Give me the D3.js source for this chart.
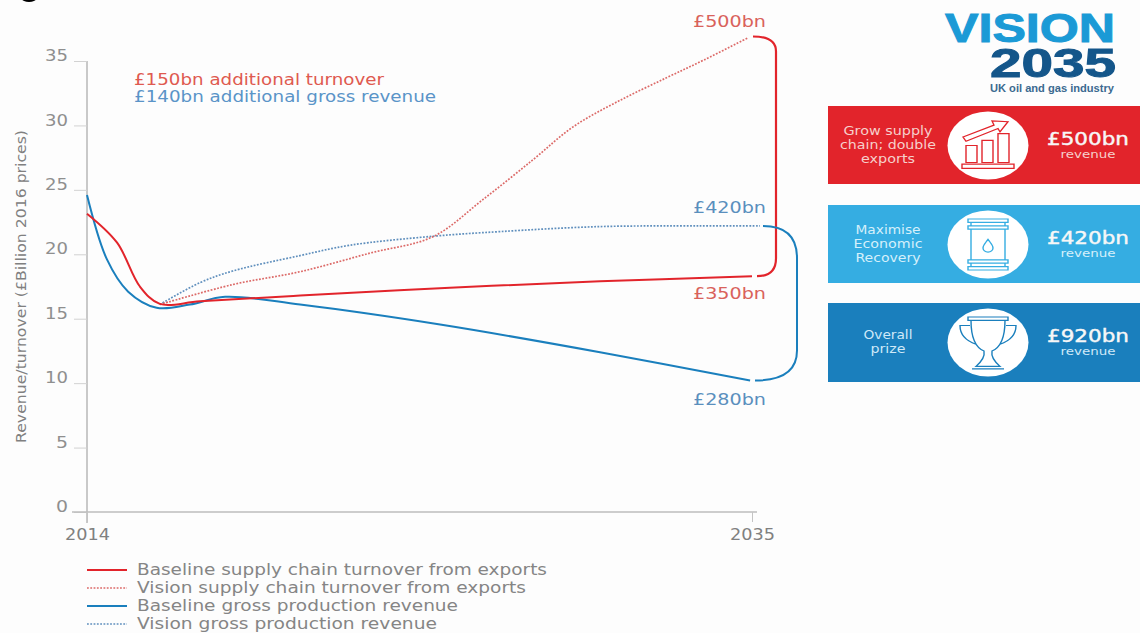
<!DOCTYPE html>
<html>
<head>
<meta charset="utf-8">
<script src="https://cdn.jsdelivr.net/npm/d3@7"></script>
<style>
html,body{margin:0;padding:0;background:#fdfdfd;overflow:hidden}
svg{display:block}
text{font-family:"DejaVu Sans",sans-serif}
</style>
</head>
<body>
<svg id="chart" width="1140" height="633"></svg>
<script>
// Revenue in £bn per year (2016 prices), [year, value]
const baselineSupply = [[2014,23.15],[2014.95,20.9],[2015.67,17.5],[2016.3,16.15],[2017.57,16.35],[2020.73,16.8],[2025.46,17.4],[2030.2,17.9],[2035,18.3]];
const visionSupply = [[2016.3,16.1],[2018.6,17.65],[2020.73,18.65],[2022.95,20.1],[2024.93,21.37],[2026.5,24.24],[2028.08,27.33],[2029.35,29.89],[2030.74,31.83],[2032.3,33.7],[2033.5,35.1],[2034.87,36.8]];
const baselineGross = [[2014,24.6],[2014.63,19.6],[2015.3,17.1],[2016.2,15.85],[2017.25,16.1],[2018.36,16.7],[2020.73,16.1],[2025.15,14.55],[2030.2,12.4],[2034.94,10.2]];
const visionGross = [[2016.3,16.1],[2017.57,17.8],[2018.6,18.7],[2020.73,19.9],[2022.3,20.7],[2024.93,21.4],[2027.04,21.76],[2030.2,22.15],[2033.36,22.2],[2035.25,22.2]];

const yTicks = [0,5,10,15,20,25,30,35];
const xTicks = [2014,2035];
const yLabel = "Revenue/turnover (£Billion 2016 prices)";
const legendNames = ["Baseline supply chain turnover from exports","Vision supply chain turnover from exports","Baseline gross production revenue","Vision gross production revenue"];
const legendWidths = [410,389,321,300];
const bracketLabels = ["£500bn","£420bn","£350bn","£280bn"];
const summaryLines = ["£150bn additional turnover","£140bn additional gross revenue"];
const summaryWidths = [250,302];
const panelTitles = [["Grow supply","chain; double","exports"],["Maximise","Economic","Recovery"],["Overall","prize"]];
const panelTitleWidths = [[89,96,54],[65,69,65],[49,35]];
const panelValues = ["£500bn","£420bn","£920bn"];
const panelUnit = "revenue";

const RED = "#e2242b", LIGHT = "#35ade2", BLUE = "#1a7fbd", GREY = "#8f8f8f";
const DOTTED = "1.8 1.5";

const svg = d3.select("#chart");
const x = d3.scaleLinear().domain([2014,2035]).range([87,752]);
const y = d3.scaleLinear().domain([0,35]).range([512,61]);

// Stretches a text's glyphs to an exact width for the wide lettering
const fit = (sel, w) => sel.attr("textLength", w).attr("lengthAdjust", "spacingAndGlyphs");

// Dark speck left at the very top edge of the page
svg.append("ellipse").attr("cx",29).attr("cy",-1).attr("rx",7).attr("ry",3).attr("fill","#000");

// Axes
const yAxis = d3.axisLeft(y).tickValues(yTicks).tickSize(13).tickPadding(6);
const gy = svg.append("g").attr("transform","translate(87,0)").call(yAxis);
gy.select(".domain").attr("d",`M0,${y(35)}V523`).attr("stroke","#c9c9c9").attr("stroke-width",2);
gy.selectAll(".tick line").attr("stroke","#d2d2d2");
gy.selectAll(".tick text").attr("x",-19).attr("dy","-0.02em").attr("fill",GREY).style("font-size","15px").attr("textLength",d=>d<10?12:23).attr("lengthAdjust","spacingAndGlyphs");

const xAxis = d3.axisBottom(x).tickValues(xTicks).tickSize(10).tickPadding(7).tickFormat(d3.format("d"));
const gx = svg.append("g").attr("transform",`translate(0,${y(0)})`).call(xAxis);
gx.select(".domain").attr("d","M72,0H757").attr("stroke","#bdbdbd").attr("stroke-width",1.5);
gx.selectAll(".tick line").attr("stroke","#c4c4c4");
gx.selectAll(".tick text").attr("fill","#808080").style("font-size","15px").call(fit,45);

svg.append("text").attr("transform","translate(26,286.5) rotate(-90)").attr("text-anchor","middle")
  .attr("fill","#808080").style("font-size","14px").call(fit,313).text(yLabel);

// Series lines
const line = d3.line().x(d=>x(d[0])).y(d=>y(d[1])).curve(d3.curveCatmullRom.alpha(0.5));
const series = [
  {d:visionGross,c:"#5f8fbd",dash:DOTTED,w:1.7},
  {d:visionSupply,c:"#dc6a68",dash:DOTTED,w:1.7},
  {d:baselineGross,c:BLUE,dash:null,w:2},
  {d:baselineSupply,c:RED,dash:null,w:2}
];
svg.selectAll("path.series").data(series).join("path").attr("class","series")
  .attr("d",s=>line(s.d)).attr("fill","none").attr("stroke",s=>s.c).attr("stroke-width",s=>s.w)
  .attr("stroke-dasharray",s=>s.dash);

// Brackets joining each baseline end to its vision end
function bracket(topVal,botVal,x0,x1,xr,rt,rb){
  const t=y(topVal), b=y(botVal);
  return `M${x0},${t}Q${xr},${t} ${xr},${t+rt}V${b-rb}Q${xr},${b} ${x1},${b}`;
}
svg.append("path").attr("d",bracket(36.9,18.3,753,757,776,15,18)).attr("fill","none").attr("stroke",RED).attr("stroke-width",2.2);
svg.append("path").attr("d",bracket(22.2,10.2,763,755,797,32,30)).attr("fill","none").attr("stroke",BLUE).attr("stroke-width",2);

// Bracket end labels
const labelY = [27,213,299,405];
const labelColor = ["#d9625b","#5a8fbd","#d9625b","#5a8fbd"];
svg.selectAll("text.end").data(bracketLabels).join("text").attr("class","end")
  .attr("x",693).attr("y",(d,i)=>labelY[i]).attr("fill",(d,i)=>labelColor[i])
  .style("font-size","15px").call(fit,73).text(d=>d);

// Summary notes
svg.selectAll("text.note").data(summaryLines).join("text").attr("class","note")
  .attr("x",134).attr("y",(d,i)=>85+i*17).attr("fill",(d,i)=>i?"#5a94c8":"#df5a50")
  .style("font-size","15px").attr("textLength",(d,i)=>summaryWidths[i]).attr("lengthAdjust","spacingAndGlyphs").text(d=>d);

// Legend
const legendY = [570,588,606,624];
const legendStyle = [{c:RED},{c:"#dc6a68",dash:DOTTED},{c:BLUE},{c:"#5f8fbd",dash:DOTTED}];
const lg = svg.selectAll("g.lg").data(legendNames).join("g").attr("class","lg").attr("transform",(d,i)=>`translate(0,${legendY[i]})`);
lg.append("line").attr("x1",87).attr("x2",127).attr("stroke",(d,i)=>legendStyle[i].c).attr("stroke-width",(d,i)=>legendStyle[i].dash?1.6:2).attr("stroke-dasharray",(d,i)=>legendStyle[i].dash||null);
lg.append("text").attr("x",137).attr("y",5).attr("fill","#858585").style("font-size","15px")
  .attr("textLength",(d,i)=>legendWidths[i]).attr("lengthAdjust","spacingAndGlyphs").text(d=>d);

// Logo
const logo = svg.append("g").style("font-weight",700);
logo.append("text").attr("x",945).attr("y",42).attr("fill","#1b9ad6").attr("stroke","#1b9ad6").attr("stroke-width",1)
  .style("font-family","'Liberation Sans',sans-serif").style("font-size","41px").attr("textLength",170).attr("lengthAdjust","spacingAndGlyphs").text("VISION");
logo.append("text").attr("x",990).attr("y",77).attr("fill","#14568a").attr("stroke","#14568a").attr("stroke-width",1)
  .style("font-family","'Liberation Sans',sans-serif").style("font-size","41px").attr("textLength",126).attr("lengthAdjust","spacingAndGlyphs").text("2035");
logo.append("text").attr("x",990).attr("y",92).attr("fill","#3b6a90")
  .style("font-family","'Liberation Sans',sans-serif").style("font-size","11px").attr("textLength",124).attr("lengthAdjust","spacingAndGlyphs").text("UK oil and gas industry");

// Summary panels
const panelTop = [106,205,303], panelColor = [RED,LIGHT,BLUE];
const panelHeight = [78,78,79];
const titleColor = ["#f6d0cc","#d5f0fb","#cfe9f8"];
const panel = svg.selectAll("g.panel").data(panelTitles).join("g").attr("class","panel").attr("transform",(d,i)=>`translate(828,${panelTop[i]})`);
panel.append("rect").attr("width",312).attr("height",(d,i)=>panelHeight[i]).attr("fill",(d,i)=>panelColor[i]);
panel.append("ellipse").attr("cx",160).attr("cy",39.5).attr("rx",40.5).attr("ry",34).attr("fill","#fff");
panel.each(function(d,i){
  const g = d3.select(this);
  const lh = 13.7;
  const start = 39 - (d.length-1)*lh/2 + 4;
  g.selectAll("text.t").data(d).join("text").attr("class","t").attr("x",60).attr("y",(s,j)=>start+j*lh)
    .attr("text-anchor","middle").attr("fill",titleColor[i]).style("font-size","11.5px")
    .attr("textLength",(s,j)=>panelTitleWidths[i][j]).attr("lengthAdjust","spacingAndGlyphs").text(s=>s);
  g.append("text").attr("x",260).attr("y",39).attr("text-anchor","middle").attr("fill","#f7f7f7")
    .attr("stroke","#f7f7f7").attr("stroke-width",0.4).style("font-size","17px").call(fit,82).text(panelValues[i]);
  g.append("text").attr("x",260).attr("y",52).attr("text-anchor","middle").attr("fill",titleColor[i])
    .style("font-size","11px").call(fit,55).text(panelUnit);
  // Small line icon inside each disc
  const ic = g.append("g").attr("transform","translate(160,39.5) scale(1,0.85)").attr("fill","none").attr("stroke-width",1.4).attr("stroke",panelColor[i]);
  if(i===0){
    ic.append("path").attr("d","M-26,22H26V27H-26Z M-22,0H-11V20H-22Z M-6,-6H5V20H-6Z M10,-14H21V20H10Z M-25,-10L6,-24L4,-29L20,-28L12,-16L10,-20L-22,-5Z");
  } else if(i===1){
    ic.append("path").attr("d","M-20,-30H20V-26H-20Z M-17,-26V-22M17,-26V-22 M-20,-22H20V-18H-20Z M-17,-18V18H17V-18 M-20,18H20V22H-20Z M-17,22V26M17,22V26 M-20,26H20V30H-20Z");
    ic.append("path").attr("d","M0,-6C-3,-1 -5,1 -5,4A5,5 0 0 0 5,4C5,1 3,-1 0,-6Z");
  } else {
    ic.append("path").attr("d","M-20,-30H20V-26H-20Z M-17,-26C-17,-6 -12,6 -4,10C-3,16 -6,22 -12,28H12C6,22 3,16 4,10C12,6 17,-6 17,-26 M-16,31H16 M-18,-20H-28C-28,-8 -22,-2 -12,2 M18,-20H28C28,-8 22,-2 12,2");
  }
});
</script>
</body>
</html>
